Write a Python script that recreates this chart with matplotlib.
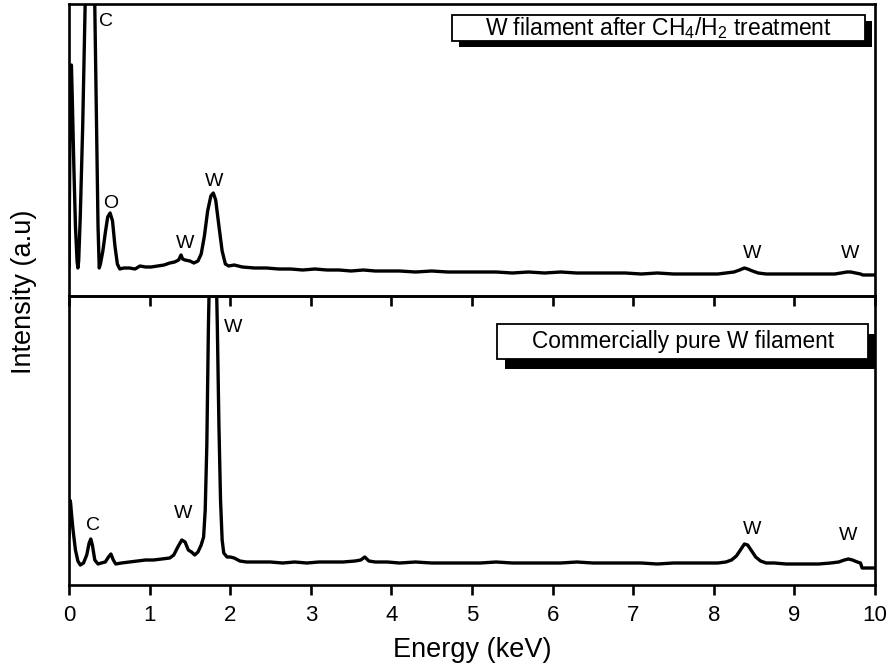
import matplotlib
matplotlib.use("Agg")
import matplotlib.pyplot as plt
from matplotlib.patches import Rectangle

plt.rcParams['font.family'] = ['Liberation Sans', 'DejaVu Sans']
plt.rcParams['mathtext.fontset'] = 'custom'
plt.rcParams['mathtext.rm'] = 'Liberation Sans'
plt.rcParams['mathtext.it'] = 'Liberation Sans'
plt.rcParams['mathtext.default'] = 'regular'

# ---------------- data ----------------
top_energy = [0.00, 0.01, 0.02, 0.03, 0.04, 0.06, 0.08, 0.10, 0.11, 0.12, 0.14, 0.17,
              0.20, 0.23, 0.26, 0.29, 0.32, 0.34, 0.36, 0.375, 0.39, 0.42, 0.45, 0.48,
              0.51, 0.54, 0.57, 0.60, 0.63, 0.68, 0.75, 0.82, 0.88, 0.95, 1.02, 1.10,
              1.18, 1.25, 1.31, 1.36, 1.39, 1.41, 1.44, 1.50, 1.55, 1.60, 1.64, 1.68,
              1.72, 1.76, 1.79, 1.82, 1.86, 1.90, 1.94, 1.98, 2.05, 2.15, 2.3, 2.45,
              2.6, 2.75, 2.9, 3.05, 3.2, 3.35, 3.5, 3.65, 3.8, 3.95, 4.1, 4.3, 4.5, 4.7,
              4.9, 5.1, 5.3, 5.5, 5.7, 5.9, 6.1, 6.3, 6.5, 6.7, 6.9, 7.1, 7.3, 7.5, 7.7,
              7.9, 8.05, 8.15, 8.25, 8.32, 8.38, 8.42, 8.48, 8.55, 8.65, 8.8, 9.0, 9.2,
              9.4, 9.5, 9.58, 9.65, 9.70, 9.76, 9.82, 9.85, 9.92, 10.0]
top_counts = [30, 150, 228, 231, 200, 130, 70, 35, 28, 35, 80, 170,
              290, 420, 480, 420, 290, 180, 70, 28, 32, 45, 63, 79,
              83, 75, 50, 32, 27, 28, 28, 27, 30, 29, 29, 30,
              31, 33, 34, 36, 41, 37, 36, 35, 33, 35, 42, 60,
              85, 100, 103, 96, 70, 45, 32, 30, 31, 29, 28, 28,
              27, 27, 26, 27, 26, 26, 25, 26, 25, 25, 25, 24, 25, 24,
              24, 24, 24, 23, 24, 23, 24, 23, 23, 23, 23, 22, 23, 22, 22,
              22, 22, 23, 24, 26, 28, 27, 25, 23, 22, 22, 22, 22,
              22, 22, 23, 24, 24, 23, 22, 21, 21, 21]

bot_energy = [0.00, 0.01, 0.02, 0.03, 0.05, 0.08, 0.11, 0.14, 0.18, 0.22, 0.25, 0.27,
              0.29, 0.32, 0.36, 0.40, 0.45, 0.49, 0.52, 0.55, 0.58, 0.65, 0.75, 0.85,
              0.95, 1.05, 1.15, 1.25, 1.30, 1.35, 1.40, 1.44, 1.48, 1.52, 1.56, 1.60,
              1.64, 1.67, 1.69, 1.71, 1.73, 1.75, 1.78, 1.80, 1.82, 1.84, 1.86, 1.88,
              1.90, 1.92, 1.96, 2.00, 2.05, 2.12, 2.2, 2.35, 2.5, 2.65, 2.8, 2.95, 3.1,
              3.25, 3.4, 3.55, 3.62, 3.67, 3.72, 3.8, 3.95, 4.1, 4.3, 4.5, 4.7, 4.9,
              5.1, 5.3, 5.5, 5.7, 5.9, 6.1, 6.3, 6.5, 6.7, 6.9, 7.1, 7.3, 7.5, 7.7,
              7.9, 8.05, 8.15, 8.22, 8.28, 8.33, 8.38, 8.42, 8.47, 8.52, 8.58, 8.65,
              8.75, 8.9, 9.1, 9.3, 9.45, 9.55, 9.62, 9.67, 9.72, 9.78, 9.82, 9.84,
              9.9, 10.0]
bot_counts = [48, 85, 82, 72, 55, 35, 24, 20, 22, 30, 42, 46,
              40, 25, 21, 22, 23, 28, 31, 25, 21, 22, 23, 24,
              25, 25, 26, 27, 30, 38, 45, 43, 35, 33, 30, 33,
              40, 48, 75, 140, 260, 340, 375, 375, 340, 260, 160, 85,
              45, 32, 28, 28, 27, 24, 23, 23, 23, 22, 23, 22, 23,
              23, 23, 24, 25, 28, 24, 23, 23, 22, 23, 22, 22, 22,
              22, 23, 22, 22, 22, 22, 23, 22, 22, 22, 22, 21, 22, 22,
              22, 22, 23, 25, 29, 35, 41, 40, 34, 28, 24, 22,
              22, 21, 21, 21, 22, 23, 25, 26, 25, 23, 22, 17,
              17, 17]

top_legend = 'W filament after CH$_4$/H$_2$ treatment'
bot_legend = 'Commercially pure W filament'

top_peak_labels = ['C', 'O', 'W', 'W', 'W', 'W']
top_peak_x = [0.46, 0.52, 1.44, 1.80, 8.47, 9.69]
top_peak_y = [274, 92, 53, 114, 43, 42]

bot_peak_labels = ['C', 'W', 'W', 'W', 'W']
bot_peak_x = [0.30, 1.41, 2.03, 8.47, 9.66]
bot_peak_y = [60, 72, 257, 55, 50]

x_ticks = [0, 1, 2, 3, 4, 5, 6, 7, 8, 9, 10]

# ---------------- figure ----------------
W, H = 891, 671
fig = plt.figure(figsize=(W / 100, H / 100), dpi=100)

def fx(px):
    return px / W

def fy(py):
    return 1 - py / H

left, right = 69, 875
top_y0, mid_y, bot_y1 = 4, 296, 585

ax_top = fig.add_axes([fx(left), fy(mid_y), fx(right - left), (mid_y - top_y0) / H])
ax_bot = fig.add_axes([fx(left), fy(bot_y1), fx(right - left), (bot_y1 - mid_y) / H])

lw_spine = 1.9
for ax in (ax_top, ax_bot):
    ax.set_xlim(0, 10)
    ax.set_xticks(x_ticks)
    ax.set_yticks([])
    for s in ax.spines.values():
        s.set_linewidth(lw_spine)
    ax.tick_params(axis='x', direction='out', length=7.5, width=1.9, pad=7,
                   labelsize=16)

ax_top.set_ylim(0, mid_y - top_y0)
ax_bot.set_ylim(0, bot_y1 - mid_y)
ax_top.tick_params(axis='x', labelbottom=False)
ax_top.set_zorder(3)
ax_top.patch.set_alpha(0)

ax_top.plot(top_energy, top_counts, color='black', lw=2.4, clip_on=True)
ax_bot.plot(bot_energy, bot_counts, color='black', lw=2.4, clip_on=True)

for lab, x, y in zip(top_peak_labels, top_peak_x, top_peak_y):
    ax_top.text(x, y, lab, ha='center', va='center', fontsize=14)
for lab, x, y in zip(bot_peak_labels, bot_peak_x, bot_peak_y):
    ax_bot.text(x, y, lab, ha='center', va='center', fontsize=14)

ax_bot.set_xlabel('Energy (keV)', fontsize=19.5, labelpad=8)
fig.text(fx(24), fy(292), 'Intensity (a.u)', rotation=90, ha='center', va='center',
         fontsize=19.5)

# legend-like boxes with shadow
def shadow_box(x0, y0, x1, y1, dx, dy, text, fs):
    sh = Rectangle((fx(x0 + dx), fy(y1 + dy)), fx(x1 - x0), (y1 - y0) / H,
                   transform=fig.transFigure, facecolor='black', edgecolor='black',
                   lw=0, zorder=10)
    bx = Rectangle((fx(x0), fy(y1)), fx(x1 - x0), (y1 - y0) / H,
                   transform=fig.transFigure, facecolor='white', edgecolor='black',
                   lw=1.3, zorder=11)
    fig.add_artist(sh)
    fig.add_artist(bx)
    fig.text(fx((x0 + x1) / 2), fy((y0 + y1) / 2), text, ha='center', va='center',
             fontsize=fs, zorder=12)

shadow_box(452, 15, 865, 41, 7, 6, top_legend, 16.5)
shadow_box(497, 324, 868, 359, 8, 10, bot_legend, 16.3)

fig.savefig('out.png', dpi=100)
